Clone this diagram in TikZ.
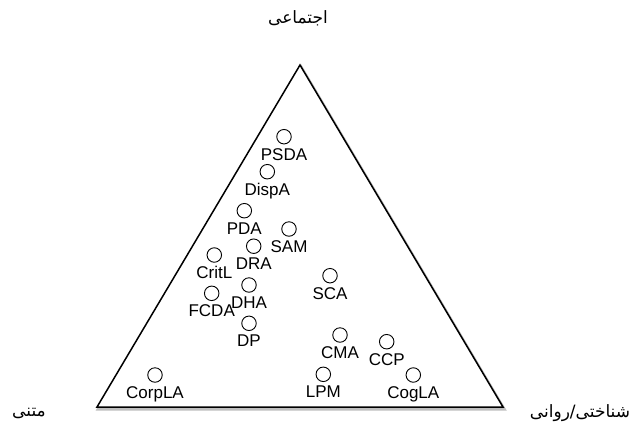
\documentclass[tikz,border=0pt]{standalone}
\usepackage{fontspec}
\setmainfont{Liberation Sans}
\newfontfamily\arabicfont[Script=Arabic]{DejaVu Sans}
\TeXXeTstate=1
\usetikzlibrary{calc}
\tikzset{
  pt/.style={circle, draw=black, line width=0.9pt, minimum size=14.5pt, inner sep=0pt, fill=white},
  lab/.style={font=\fontsize{17}{18}\selectfont, anchor=base, inner sep=0pt},
  axislab/.style={font=\arabicfont\fontsize{17}{18}\selectfont, inner sep=0pt},
  tri/.style={draw=black, line width=1.5pt, line join=miter, fill=white},
  trishadow/.style={draw=black, line width=3pt, line join=miter, opacity=0.25}
}
\newcommand\mypoint[4]{%
  \node[pt] (#1) at (#2,#3) {};
  \node[lab] (#1L) at ($(#1)+(0,23.3)$) {#4};
}
\begin{document}
\begin{tikzpicture}[x=1pt,y=-1pt]
\useasboundingbox (0,0) rectangle (639,429);
\coordinate (apex) at (300,65);
\coordinate (bl) at (97,407);
\coordinate (br) at (503,407);
\path[trishadow] ([shift={(1.2,2.2)}]apex) -- ([shift={(1.2,2.2)}]bl) -- ([shift={(1.2,2.2)}]br) -- cycle;
\path[tri] (apex) -- (bl) -- (br) -- cycle;
\node[axislab] (social) at (298,18) {\beginR اجتماعی\endR};
\node[axislab] (text) at (29,413) {\beginR متنی\endR};
\node[axislab] (cog) at (580,413) {\beginR شناختی/روانی\endR};
\mypoint{psda}{284}{136.7}{PSDA}
\mypoint{dispa}{267.3}{171.7}{DispA}
\mypoint{pda}{244.3}{210.7}{PDA}
\mypoint{sam}{289}{229}{SAM}
\mypoint{dra}{253.7}{246.2}{DRA}
\mypoint{critl}{214.3}{255}{CritL}
\mypoint{dha}{249}{285}{DHA}
\mypoint{fcda}{211.7}{293.3}{FCDA}
\mypoint{dp}{249}{323.3}{DP}
\mypoint{corpla}{155}{375}{CorpLA}
\mypoint{sca}{330}{275.7}{SCA}
\mypoint{cma}{340}{335}{CMA}
\mypoint{ccp}{386.7}{341.7}{CCP}
\mypoint{lpm}{323.3}{374.3}{LPM}
\mypoint{cogla}{413.3}{375}{CogLA}
\end{tikzpicture}
\end{document}
